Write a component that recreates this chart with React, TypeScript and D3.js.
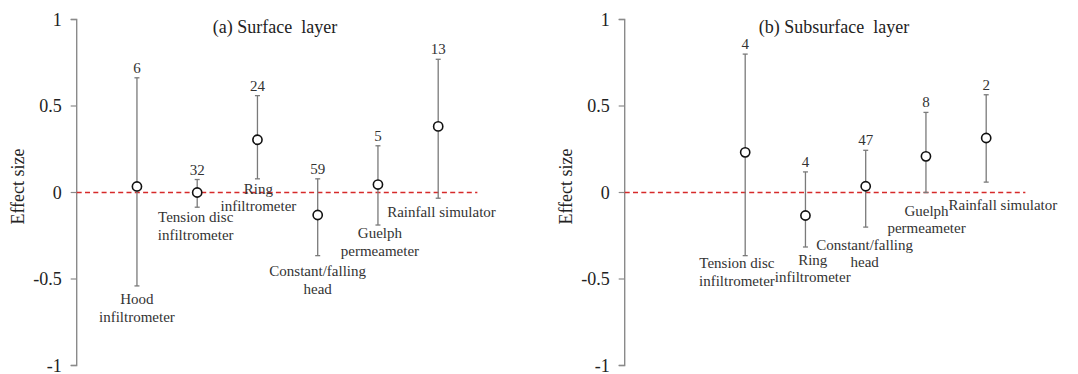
import React from "react";
import * as d3 from "d3";

// (a) surface layer
const surfaceMethods = [
  ["Hood", "infiltrometer"],
  ["Tension disc", "infiltrometer"],
  ["Ring", "infiltrometer"],
  ["Constant/falling", "head"],
  ["Guelph", "permeameter"],
  ["Rainfall simulator"],
];
const surfaceMean = [0.035, 0.0, 0.305, -0.13, 0.046, 0.382];
const surfaceLow = [-0.54, -0.085, 0.079, -0.365, -0.188, -0.033];
const surfaceHigh = [0.663, 0.075, 0.56, 0.079, 0.27, 0.77];
const surfaceN = [6, 32, 24, 59, 5, 13];

// (b) subsurface layer
const subMethods = [
  ["Tension disc", "infiltrometer"],
  ["Ring", "infiltrometer"],
  ["Constant/falling", "head"],
  ["Guelph", "permeameter"],
  ["Rainfall simulator"],
];
const subMean = [0.232, -0.133, 0.036, 0.209, 0.315];
const subLow = [-0.365, -0.315, -0.2, 0.0, 0.06];
const subHigh = [0.8, 0.119, 0.244, 0.463, 0.565];
const subN = [4, 4, 47, 8, 2];

const yTicks = [-1, -0.5, 0, 0.5, 1];

const FONT = '"Liberation Serif"';
const AXIS = "#8a8a8a";
const BAR = "#7a7a7a";

const y = d3.scaleLinear().domain([-1, 1]).range([365.5, 19.5]);

function Panel({ axisX, titleX, title, start, methods, mean, low, high, n, nudge }) {
  const x = d3.scaleLinear().domain([0, 1]).range([axisX, axisX + 60.25]);
  return (
    <g>
      {/* y axis */}
      <path d={`M${axisX - 6},${y(1)}H${axisX}V${y(-1)}H${axisX - 6}`} fill="none" stroke={AXIS} strokeWidth={1.4} />
      {yTicks.map(t => (
        <g key={t}>
          <line x1={axisX - 6} x2={axisX} y1={y(t)} y2={y(t)} stroke={AXIS} strokeWidth={1.2} />
          <text x={axisX - 15} y={y(t) + 6} textAnchor="end" fill="#222"
            style={{ fontFamily: FONT, fontSize: 18 }}>{String(t)}</text>
        </g>
      ))}

      {/* zero line */}
      <line x1={axisX} x2={x(6.65)} y1={y(0)} y2={y(0)} stroke="#d62a2a" strokeWidth={1.5} strokeDasharray="5,3.3" />

      <text transform={`translate(${axisX - 53},${y(0) - 6}) rotate(-90)`} textAnchor="middle" fill="#222"
        style={{ fontFamily: FONT, fontSize: 18 }}>Effect size</text>

      <text x={titleX} y={33} textAnchor="middle" fill="#222"
        style={{ fontFamily: FONT, fontSize: 18, whiteSpace: "pre" }}>{title}</text>

      {methods.map((m, i) => {
        const cx = x(i + start);
        return (
          <g key={i}>
            <line x1={cx} x2={cx} y1={y(high[i])} y2={y(low[i])} stroke={BAR} strokeWidth={1.3} />
            <line x1={cx - 2.5} x2={cx + 2.5} y1={y(high[i])} y2={y(high[i])} stroke={BAR} strokeWidth={1.3} />
            <line x1={cx - 2.5} x2={cx + 2.5} y1={y(low[i])} y2={y(low[i])} stroke={BAR} strokeWidth={1.3} />
            <circle cx={cx} cy={y(mean[i])} r={4.6} fill="#fff" stroke="#111" strokeWidth={1.6} />
            <text x={cx} y={y(high[i]) - 5} textAnchor="middle" fill="#333"
              style={{ fontFamily: FONT, fontSize: 15 }}>{n[i]}</text>
            {m.map((s, j) => (
              <text key={j} x={cx + nudge[i][0]} y={y(low[i]) + nudge[i][1] + 5 + j * 17.6}
                textAnchor="middle" fill="#333" style={{ fontFamily: FONT, fontSize: 15 }}>{s}</text>
            ))}
          </g>
        );
      })}
    </g>
  );
}

export default function App() {
  return (
    <svg width={1078} height={374} style={{ position: "absolute", left: 0, top: 0, background: "#fff" }}>
      <Panel axisX={76.7} titleX={275} title="(a) Surface  layer" start={1}
        methods={surfaceMethods} mean={surfaceMean} low={surfaceLow} high={surfaceHigh} n={surfaceN}
        nudge={[[0, 13.3], [-1.5, 10], [1, 9.7], [0, 15.7], [2, 8], [3.3, 14]]} />
      <Panel axisX={624.7} titleX={834} title="(b) Subsurface  layer" start={2}
        methods={subMethods} mean={subMean} low={subLow} high={subHigh} n={subN}
        nudge={[[-8.3, 7.4], [7.3, 12.6], [-1, 17.6], [0.6, 18], [16.7, 22.6]]} />
    </svg>
  );
}
